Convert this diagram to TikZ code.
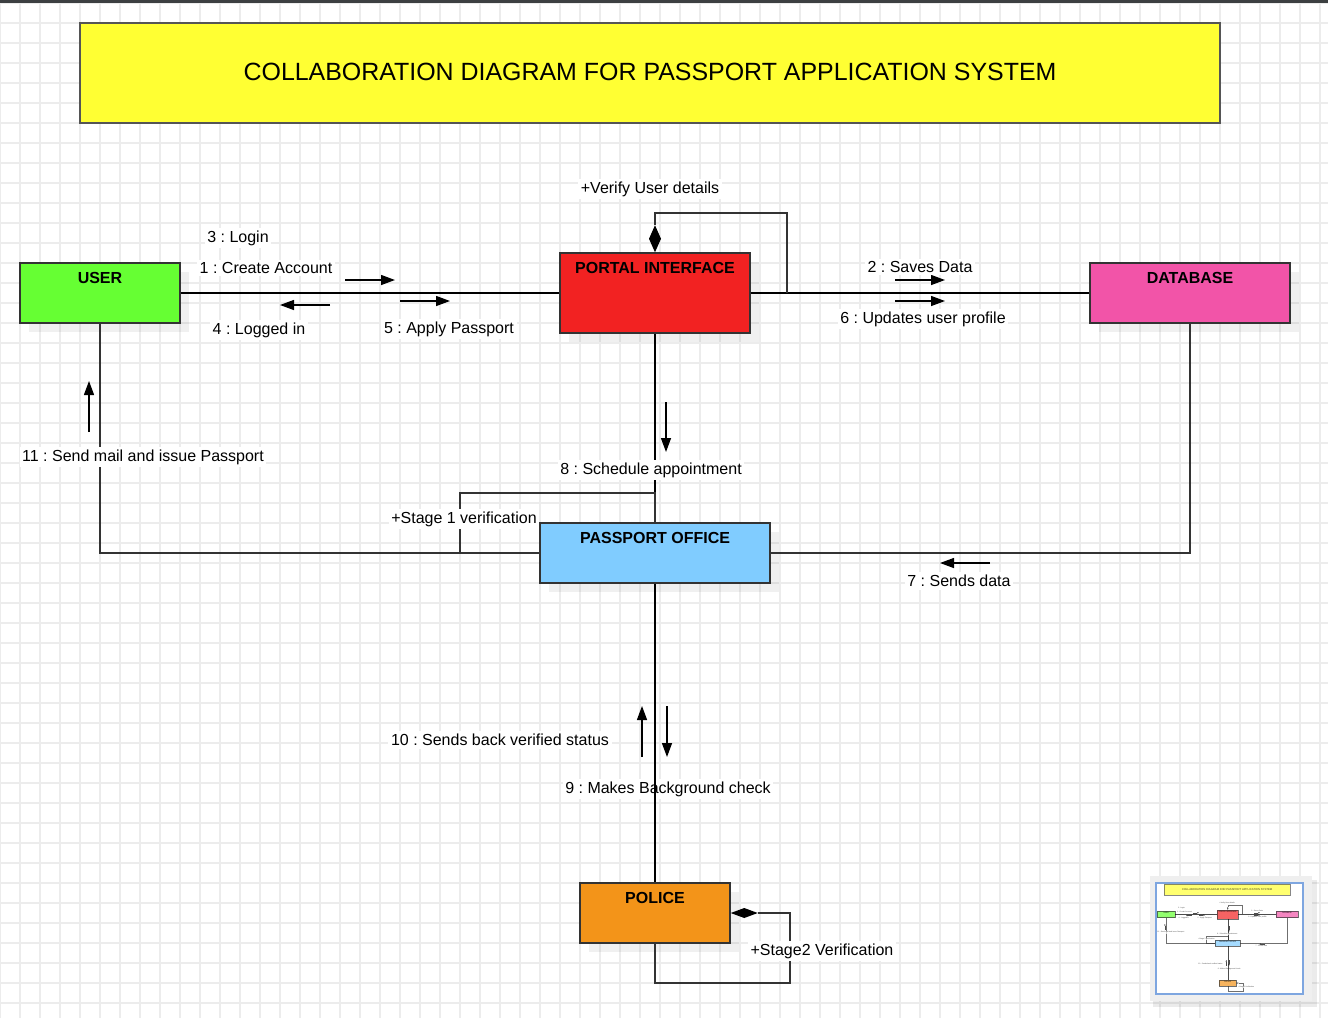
\documentclass[tikz,border=0pt]{standalone}
\usepackage{fontspec}
\setmainfont{Liberation Sans}
\frenchspacing
\usetikzlibrary{arrows.meta,shapes.geometric,shadows}

\definecolor{titleyellow}{HTML}{FFFF33}
\definecolor{titleborder}{HTML}{555555}
\definecolor{usergreen}{HTML}{66FF33}
\definecolor{portalred}{HTML}{F22222}
\definecolor{dbpink}{HTML}{F254A8}
\definecolor{officeblue}{HTML}{80CCFF}
\definecolor{policeorange}{HTML}{F39419}
\definecolor{edgegrey}{HTML}{333333}
\definecolor{gridgrey}{HTML}{ECECEC}
\definecolor{topbar}{HTML}{3C3F41}
\definecolor{outlinegrey}{HTML}{EFEFEF}
\definecolor{outlineblue}{HTML}{7EA6E0}

\newcommand{\dscale}{1}

\tikzset{
  gridline/.style={draw=gridgrey, line width=1pt},
  objshadow/.style={drop shadow={shadow xshift=6.75pt, shadow yshift=-6.75pt,
                    fill=black, opacity=0.06}},
  titlebox/.style={draw=titleborder, line width=1.1pt*\dscale, inner sep=0pt,
                   fill=titleyellow, font=\fontsize{18.7}{22}\selectfont},
  objbox/.style={draw=edgegrey, line width=1.1pt*\dscale, inner sep=0pt, objshadow},
  objname/.style={anchor=north, inner sep=7pt, font=\fontsize{12}{14}\selectfont\bfseries},
  assoc/.style={draw=black, line width=1.6pt*\dscale},
  link/.style={draw=edgegrey, line width=1.1pt*\dscale},
  msg/.style={draw=black, line width=1pt*\dscale,
              -{Triangle[length=10.5pt, width=7.5pt, scale=\dscale]}},
  msglabel/.style={fill=white, inner sep=2pt, font=\fontsize{12}{14}\selectfont},
  compdia/.style={diamond, fill=black, draw=none, inner sep=0pt, outer sep=0pt}
}

% the whole collaboration diagram, drawn once full size and once in the outline view
\newcommand{\collabbody}{%
  \node[titlebox, minimum width=855pt, minimum height=75pt] (title) at (650,73)
       {\raisebox{1.5pt}{COLLABORATION DIAGRAM FOR PASSPORT APPLICATION SYSTEM}};

  % objects
  \node[objbox, fill=usergreen, minimum width=120pt, minimum height=45pt,
        label={[objname]north:USER}] (user) at (100,293) {};
  \node[objbox, fill=portalred, minimum width=142.5pt, minimum height=60pt,
        label={[objname]north:PORTAL INTERFACE}] (portal) at (655,293) {};
  \node[objbox, fill=dbpink, minimum width=150pt, minimum height=45pt,
        label={[objname]north:DATABASE}] (database) at (1190,293) {};
  \node[objbox, fill=officeblue, minimum width=172.5pt, minimum height=45pt,
        label={[objname]north:PASSPORT OFFICE}] (office) at (655,553) {};
  \node[objbox, fill=policeorange, minimum width=112.5pt, minimum height=45pt,
        label={[objname]north:POLICE}] (police) at (655,913) {};

  % links
  \draw[assoc] (user.east) -- (portal.west);
  \draw[assoc] (portal.east) -- (database.west);
  \draw[assoc] (portal.south) -- (office.north);
  \draw[link] (user.south) |- (office.west);
  \draw[link] (database.south) |- (office.east);

  % self links
  \node[compdia, minimum width=9pt, minimum height=20.25pt, anchor=south]
       (verifydia) at (portal.north) {};
  \coordinate (verifyloop) at (787,213);
  \draw[link] (verifydia.north) |- (verifyloop) -- (verifyloop |- portal.east);
  \coordinate (stageoneloop) at (460,493);
  \draw[link] (office.west) -| (stageoneloop) -| (office.north);
  \node[compdia, minimum width=20.25pt, minimum height=7.5pt, anchor=west]
       (stagetwodia) at (police.east) {};
  \coordinate (stagetwoloop) at (790,983);
  \draw[link] (stagetwodia.east) -| (stagetwoloop) -| (police.south);

  % messages
  \draw[msg] (345,280) -- (395,280);
  \draw[msg] (330,305) -- (280,305);
  \draw[msg] (400,301) -- (450,301);
  \draw[msg] (895,280) -- (945,280);
  \draw[msg] (895,301) -- (945,301);
  \draw[msg] (666,402) -- (666,452);
  \draw[msg] (990,563) -- (940,563);
  \draw[msg] (89,432) -- (89,381);
  \draw[msg] (642,757) -- (642,706);
  \draw[msg] (667,706) -- (667,757);

  \node[msglabel] (login)    at (238,238) {3 : Login};
  \node[msglabel] (create)   at (266,268) {1 : Create Account};
  \node[msglabel] (loggedin) at (259,330) {4 : Logged in};
  \node[msglabel] (apply)    at (449,329) {5 : Apply Passport};
  \node[msglabel] (verify)   at (650,189) {+Verify User details};
  \node[msglabel] (saves)    at (920,267) {2 : Saves Data};
  \node[msglabel] (updates)  at (923,319) {6 : Updates user profile};
  \node[msglabel] (schedule) at (651,470) {8 : Schedule appointment};
  \node[msglabel] (stageone) at (464,519) {+Stage 1 verification};
  \node[msglabel] (sends)    at (959,581) {7 : Sends data};
  \node[msglabel] (mail)     at (143,457) {11 : Send mail and issue Passport};
  \node[msglabel] (back)     at (500,740) {10 : Sends back verified status};
  \node[msglabel] (check)    at (668,789) {9 : Makes Background check};
  \node[msglabel] (stagetwo) at (822,951) {+Stage2 Verification};

  \draw[assoc] (office.south) -- (police.north);
}

\begin{document}
\begin{tikzpicture}[x=0.75pt, y=-0.75pt]
  \useasboundingbox (0,0) rectangle (1328,1018);

  % page grid
  \foreach \gx in {0,20,...,1320} \draw[gridline] (\gx,0) -- (\gx,1018);
  \foreach \gy in {3,23,...,1003} \draw[gridline] (0,\gy) -- (1328,\gy);
  \fill[topbar] (0,0) rectangle (1328,3);

  \collabbody

  % outline view
  \fill[black, opacity=0.08] (1153,880) rectangle (1317,1007);
  \fill[outlinegrey] (1150,876) rectangle (1312,1001);
  \draw[outlineblue, fill=white, line width=1pt] (1156,883) rectangle (1303,994);
  \begin{scope}[shift={(1155,881.7)}, scale=0.111, transform shape,
                objshadow/.style={}, opacity=0.7]
    \renewcommand{\dscale}{0.111}
    \collabbody
  \end{scope}
\end{tikzpicture}
\end{document}
